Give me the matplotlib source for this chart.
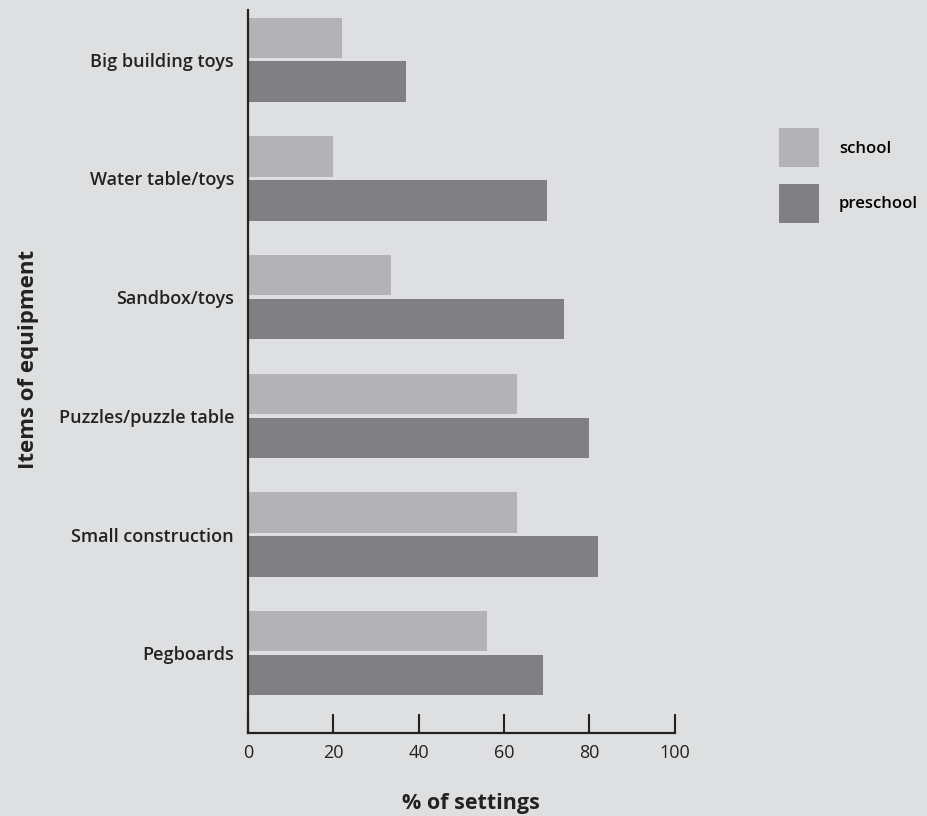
import matplotlib.pyplot as plt
import numpy as np

categories = ['Big building toys', 'Water table/toys', 'Sandbox/toys',
              'Puzzles/puzzle table', 'Small construction', 'Pegboards']
school = [22, 20, 33.5, 63, 63, 56]
preschool = [37, 70, 74, 80, 82, 69]
xticks = [0, 20, 40, 60, 80, 100]

bg = '#dedfe1'
c_school = '#b3b3b5'
c_pre = '#808082'
ink = '#222222'

plt.rcParams['font.family'] = ['Open Sans', 'DejaVu Sans']

fig = plt.figure(figsize=(9.27, 8.16), dpi=100, facecolor=bg)
ax = fig.add_axes([0.2675, 0.102, 0.4605, 0.886], facecolor=bg)

y = np.arange(len(categories))
h = 0.34
off = 0.185
ax.barh(y - off, school, height=h, color=c_school, label='school')
ax.barh(y + off, preschool, height=h, color=c_pre, label='preschool')

ax.set_xlim(0, 100)
ax.set_ylim(len(categories) - 1 + 0.67, -0.42)
ax.set_yticks(y)
ax.set_yticklabels(categories, fontsize=13, fontweight='semibold', color=ink)
ax.tick_params(axis='y', length=0, pad=10)
ax.set_xticks(xticks)
ax.set_xticklabels([str(t) for t in xticks], fontsize=13, color=ink)
ax.tick_params(axis='x', direction='in', length=14, width=1.5, color=ink, pad=8)

for s in ['top', 'right']:
    ax.spines[s].set_visible(False)
for s in ['left', 'bottom']:
    ax.spines[s].set_linewidth(1.6)
    ax.spines[s].set_color(ink)

ax.set_xlabel('% of settings', fontsize=15.5, fontweight='bold', color=ink)
ax.set_ylabel('Items of equipment', fontsize=16, fontweight='bold', color=ink)
ax.xaxis.set_label_coords(0.522, -0.084)
ax.yaxis.set_label_coords(-0.49, 0.516)

fig.legend(loc='upper left', bbox_to_anchor=(0.824, 0.861), frameon=False,
           handlelength=2.4, handleheight=3.2, labelspacing=1.0, handletextpad=1.2,
           prop={'size': 12, 'weight': 'semibold'})

plt.savefig('out.png', dpi=100, facecolor=bg)
